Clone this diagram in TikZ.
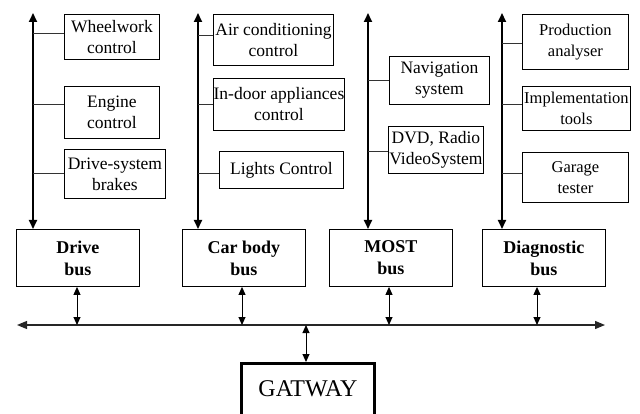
\documentclass[tikz,border=0pt]{standalone}
\usepackage{fontspec}
\setmainfont{Liberation Serif}
\usetikzlibrary{arrows.meta}
\begin{document}
\begin{tikzpicture}[x=1pt,y=-1pt,
  unit/.style={draw, line width=0.9pt, anchor=north west, align=center, inner sep=0pt, font=\fontsize{17.5}{21}\selectfont},
  dunit/.style={unit, font=\fontsize{16.5}{21}\selectfont},
  busbox/.style={draw, line width=0.9pt, anchor=north west, align=center, inner sep=0pt, minimum width=123pt, minimum height=57pt, font=\fontsize{18}{22}\selectfont\bfseries},
  spine/.style={line width=2pt, {Triangle[length=9pt,width=8pt]}-{Triangle[length=9pt,width=8pt]}},
  tap/.style={line width=0.9pt, draw=black!80},
  dbl/.style={line width=1pt, {Triangle[length=8pt,width=7pt]}-{Triangle[length=8pt,width=7pt]}},
  mainline/.style={line width=1.2pt, draw=black!85, {Triangle[length=10pt,width=8pt]}-{Triangle[length=10pt,width=8pt]}},
]
\useasboundingbox (0,0) rectangle (640,414);
\clip (0,0) rectangle (640,414);

% bus boxes
\node[busbox] (drive) at (16,229) {Drive\\bus};
\node[busbox] (body) at (182,229) {Car body\\bus};
\node[busbox] (most) at (329,229) {MOST\\bus};
\node[busbox] (diag) at (482,229) {Diagnostic\\bus};

% units
\node[unit, minimum width=95pt, minimum height=45pt] (wheel) at (64,14) {Wheelwork\\control};
\node[unit, minimum width=95pt, minimum height=52pt] (engine) at (64,86) {Engine\\control};
\node[unit, minimum width=101pt, minimum height=49pt] (brakes) at (64,149) {Drive-system\\brakes};

\node[unit, minimum width=120pt, minimum height=51pt] (air) at (213,14) {Air conditioning\\control};
\node[unit, minimum width=131pt, minimum height=52pt] (indoor) at (213,78) {In-door appliances\\control};
\node[unit, minimum width=124pt, minimum height=37pt] (lights) at (219,151) {Lights Control};

\node[unit, minimum width=100pt, minimum height=48pt] (nav) at (389,56) {Navigation\\system};
\node[unit, minimum width=95pt, minimum height=47pt] (dvd) at (388,126) {DVD, Radio\\VideoSystem};

\node[dunit, minimum width=106pt, minimum height=55pt] (prod) at (522,14) {Production\\analyser};
\node[dunit, minimum width=108pt, minimum height=44pt] (impl) at (522,86) {Implementation\\tools};
\node[dunit, minimum width=106pt, minimum height=50pt] (garage) at (522,152) {Garage\\tester};

% spines
\coordinate (s1) at (33,13);
\coordinate (s2) at (198,13);
\coordinate (s3) at (368,13);
\coordinate (s4) at (502,13);
\draw[spine] (s1) -- (s1 |- drive.north);
\draw[spine] (s2) -- (s2 |- body.north);
\draw[spine] (s3) -- (s3 |- most.north);
\draw[spine] (s4) -- (s4 |- diag.north);

% taps
\draw[tap] (s1 |- 0,33) -- (wheel.west |- 0,33);
\draw[tap] (s1 |- 0,104) -- (engine.west |- 0,104);
\draw[tap] (s1 |- 0,173) -- (brakes.west |- 0,173);
\draw[tap] (s2 |- 0,35) -- (air.west |- 0,35);
\draw[tap] (s2 |- 0,104) -- (indoor.west |- 0,104);
\draw[tap] (s2 |- 0,173) -- (lights.west |- 0,173);
\draw[tap] (s3 |- 0,80) -- (nav.west |- 0,80);
\draw[tap] (s3 |- 0,151) -- (dvd.west |- 0,151);
\draw[tap] (s4 |- 0,43) -- (prod.west |- 0,43);
\draw[tap] (s4 |- 0,104) -- (impl.west |- 0,104);
\draw[tap] (s4 |- 0,173) -- (garage.west |- 0,173);

% main line
\coordinate (L) at (17,325);
\coordinate (R) at (605,325);
\draw[mainline] (L) -- (R);

% gateway
\node[draw, line width=3pt, anchor=north west, minimum width=133pt, inner xsep=0pt, inner ysep=0pt, text height=33pt, text depth=40pt, font=\fontsize{24}{28}\selectfont] (gw) at (240,362) {GATWAY};

% bus links
\coordinate (a1) at (77,325);
\coordinate (a2) at (242,325);
\coordinate (a3) at (389,325);
\coordinate (a4) at (537,325);
\coordinate (a5) at (306,325);
\draw[dbl] (a1 |- drive.south) -- (a1);
\draw[dbl] (a2 |- body.south) -- (a2);
\draw[dbl] (a3 |- most.south) -- (a3);
\draw[dbl] (a4 |- diag.south) -- (a4);
\draw[dbl] (a5) -- (a5 |- gw.north);
\end{tikzpicture}
\end{document}
